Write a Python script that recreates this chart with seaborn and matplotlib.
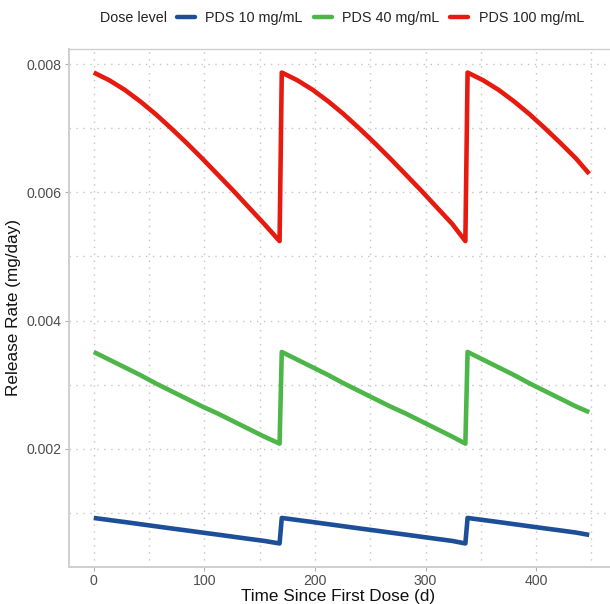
import numpy as np
import pandas as pd
import matplotlib
matplotlib.use("Agg")
import matplotlib.pyplot as plt
from matplotlib.lines import Line2D
import seaborn as sns

# Dosing cycles: release rate sampled along each cycle (days since first dose)
cycle1_days = [0, 14, 28, 42, 56, 70, 84, 98, 112, 126, 140, 154, 168]
cycle2_days = [170, 184, 198, 212, 226, 240, 254, 268, 282, 296, 310, 324, 336]
cycle3_days = [338, 352, 366, 380, 394, 408, 422, 436, 448]

pds10_c1 = [0.000920, 0.000888, 0.000856, 0.000823, 0.000790, 0.000757, 0.000725,
            0.000692, 0.000660, 0.000627, 0.000594, 0.000562, 0.000522]
pds10_c2 = [0.000920, 0.000888, 0.000856, 0.000823, 0.000790, 0.000757, 0.000725,
            0.000692, 0.000660, 0.000627, 0.000594, 0.000562, 0.000522]
pds10_c3 = [0.000920, 0.000888, 0.000856, 0.000823, 0.000790, 0.000757, 0.000725,
            0.000692, 0.000655]

pds40_c1 = [0.00351, 0.00339, 0.00327, 0.00315, 0.00302, 0.00290, 0.00278,
            0.00266, 0.00255, 0.00243, 0.00231, 0.00219, 0.00208]
pds40_c2 = [0.00351, 0.00339, 0.00327, 0.00315, 0.00302, 0.00290, 0.00278,
            0.00266, 0.00255, 0.00243, 0.00231, 0.00219, 0.00208]
pds40_c3 = [0.00351, 0.00339, 0.00327, 0.00315, 0.00302, 0.00290, 0.00278,
            0.00266, 0.00257]

pds100_c1 = [0.00787, 0.00775, 0.00760, 0.00742, 0.00722, 0.00700, 0.00677,
             0.00653, 0.00628, 0.00603, 0.00577, 0.00551, 0.00524]
pds100_c2 = [0.00787, 0.00775, 0.00760, 0.00742, 0.00722, 0.00700, 0.00677,
             0.00653, 0.00628, 0.00603, 0.00577, 0.00551, 0.00524]
pds100_c3 = [0.00787, 0.00775, 0.00760, 0.00742, 0.00722, 0.00700, 0.00677,
             0.00653, 0.00629]

dose_levels = ["PDS 10 mg/mL", "PDS 40 mg/mL", "PDS 100 mg/mL"]
dose_colors = ["#1c4f98", "#4cb748", "#e61a0f"]

x_ticks = [0, 100, 200, 300, 400]
y_ticks = [0.002, 0.004, 0.006, 0.008]
y_tick_labels = ["0.002", "0.004", "0.006", "0.008"]

days = cycle1_days + cycle2_days + cycle3_days
series = {
    "PDS 10 mg/mL": pds10_c1 + pds10_c2 + pds10_c3,
    "PDS 40 mg/mL": pds40_c1 + pds40_c2 + pds40_c3,
    "PDS 100 mg/mL": pds100_c1 + pds100_c2 + pds100_c3,
}
df = pd.concat(
    [pd.DataFrame({"time": days, "rate": vals, "dose": name}) for name, vals in series.items()],
    ignore_index=True,
)

sns.set_theme(style="white")
plt.rcParams["font.family"] = ["Liberation Sans", "DejaVu Sans"]

fig = plt.figure(figsize=(6.10, 6.04), dpi=100)
W, H = 610, 604
left, right, top, bottom = 69, 614, 49, 567
ax = fig.add_axes([left / W, 1 - bottom / H, (right - left) / W, (bottom - top) / H])

sns.lineplot(data=df, x="time", y="rate", hue="dose", hue_order=dose_levels,
             palette=dose_colors, linewidth=3.3, sort=False, estimator=None,
             legend=False, ax=ax, solid_joinstyle="round", solid_capstyle="butt")

xmin, xmax = 0, 448
ymin, ymax = 0.000522, 0.00787
xpad = (xmax - xmin) * 0.05
ypad = (ymax - ymin) * 0.05
ax.set_xlim(xmin - xpad, xmax + xpad)
ax.set_ylim(ymin - ypad, ymax + ypad)

ax.set_xticks(x_ticks)
ax.set_xticks([50, 150, 250, 350, 450], minor=True)
ax.set_yticks(y_ticks)
ax.set_yticklabels(y_tick_labels)
ax.set_yticks([0.001, 0.003, 0.005, 0.007], minor=True)

grid_kw = dict(color="#c4c4c4", linestyle=(0, (1, 4)), linewidth=1.0)
ax.grid(True, which="major", **grid_kw)
ax.grid(True, which="minor", **grid_kw)
ax.set_axisbelow(True)

for side in ["left", "bottom", "top", "right"]:
    ax.spines[side].set_color("#cfcfcf")
    ax.spines[side].set_linewidth(1.0)
ax.spines["left"].set_linewidth(1.4)
ax.spines["bottom"].set_linewidth(1.4)

ax.tick_params(axis="both", which="major", length=3.2, width=0.8, color="#b0b0b0",
               labelsize=10.2, labelcolor="#4d4d4d", pad=2, left=True, bottom=True)
ax.tick_params(axis="both", which="minor", length=0)

ax.set_ylabel("Release Rate (mg/day)", fontsize=12.3, color="#111111", labelpad=4)
ax.set_xlabel("")
fig.text((left + 614) / 2 / W - 0.005, 1 - 601 / H, "Time Since First Dose (d)",
         fontsize=12.3, color="#111111", ha="center", va="baseline")

# Horizontal legend strip above the panel
fig.text(100 / W, 1 - 18 / H, "Dose level", fontsize=10.3, color="#222222",
         ha="left", va="center")
handles = [Line2D([0], [0], color=c, linewidth=3.2) for c in dose_colors]
fig.legend(handles, dose_levels, loc="center left", bbox_to_anchor=(177 / W, 1 - 18 / H),
           ncol=3, frameon=False, fontsize=10.4, handlelength=1.25, handletextpad=0.72,
           columnspacing=0.75, borderpad=0, borderaxespad=0)

fig.savefig("out.png", dpi=100)
